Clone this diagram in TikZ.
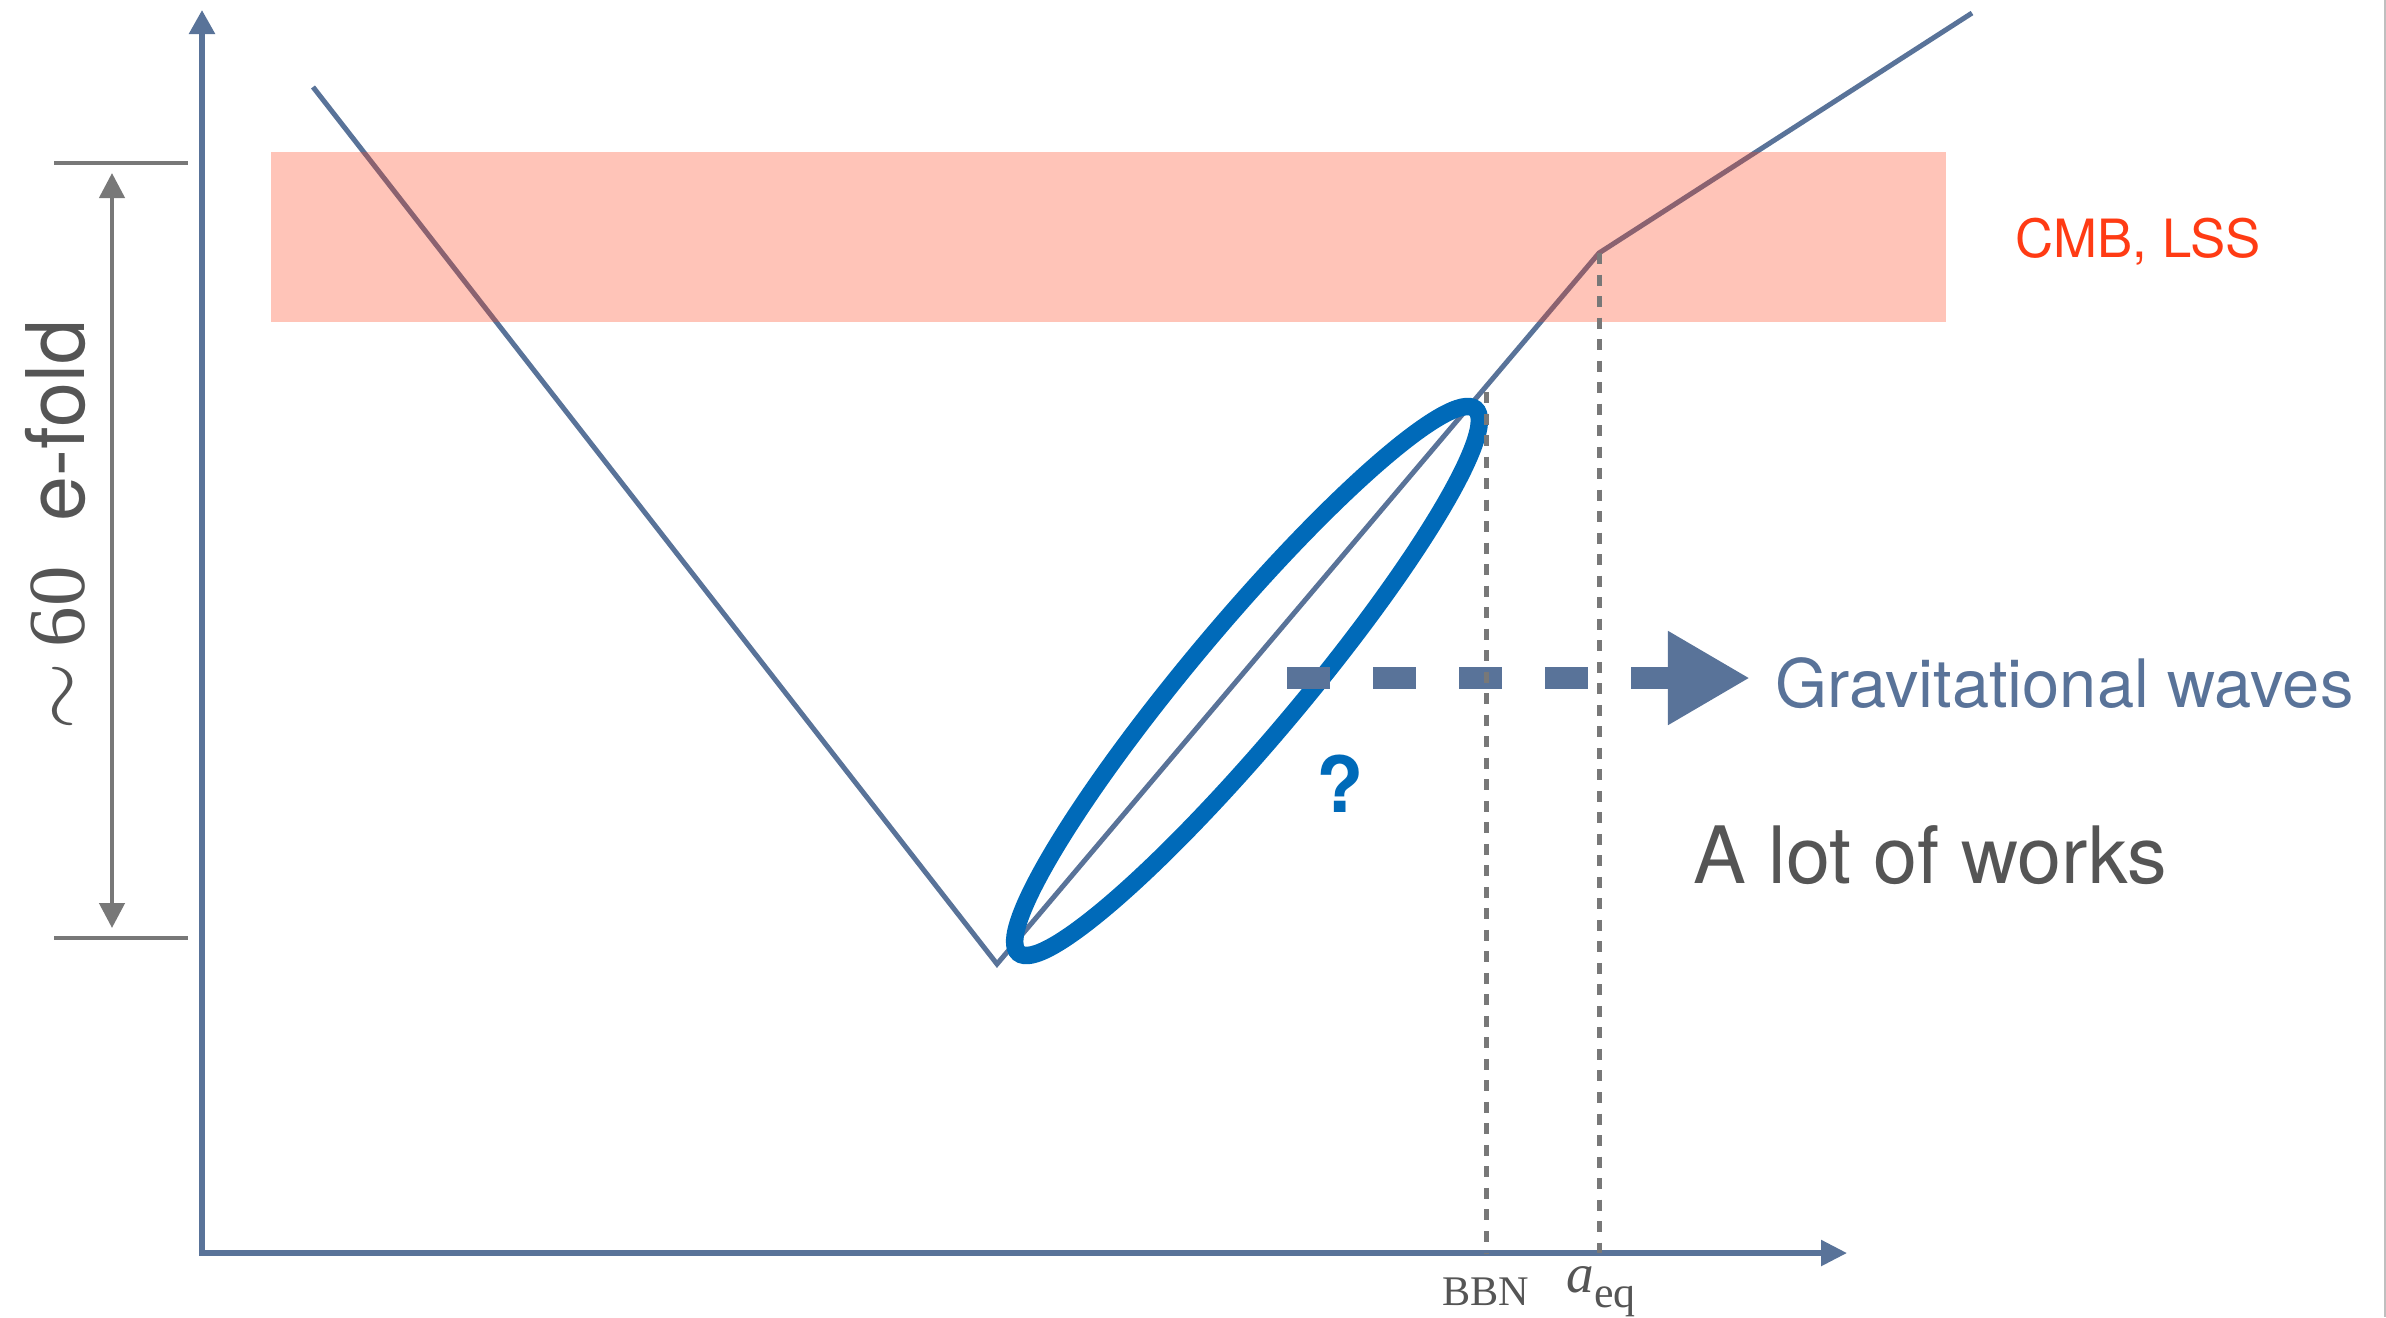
\documentclass[tikz,border=0pt]{standalone}
\usepackage{fontspec}
\setsansfont{TeX Gyre Heros}
\newfontfamily\timesfont{Liberation Serif}
\usetikzlibrary{arrows.meta}
\definecolor{axisblue}{RGB}{89,115,153}
\definecolor{rulegray}{RGB}{120,120,120}
\definecolor{textgray}{RGB}{85,85,85}
\definecolor{probeblue}{RGB}{0,106,185}
\definecolor{cmbred}{RGB}{255,59,20}
\begin{document}
\begin{tikzpicture}[x=0.01cm,y=-0.01cm,
    axis/.style={draw=axisblue,line width=0.055cm},
    curve/.style={draw=axisblue,line width=0.05cm},
    rangeline/.style={draw=rulegray,line width=0.045cm},
    guide/.style={draw=rulegray,line width=0.05cm,dash pattern=on 0.11cm off 0.105cm},
    txt/.style={inner sep=0,text=textgray}]
    \useasboundingbox (0,0) rectangle (2386,1317);
    % Axes
        \coordinate (O) at (202,1253);
        \coordinate (ytip) at (202,10);
        \coordinate (xtip) at (1847,1253);
        \draw[axis,{Triangle[length=0.24cm,width=0.25cm]}-{Triangle[length=0.26cm,width=0.25cm]}] (ytip) -- (O) -- (xtip);
    % ~60 e-fold range
        \draw[rangeline] (54,163) -- (188,163);
        \draw[rangeline] (54,938) -- (188,938);
        \coordinate (etop) at (112,163);
        \coordinate (ebot) at (112,938);
        \draw[rangeline,{Triangle[length=0.25cm,width=0.25cm]}-{Triangle[length=0.25cm,width=0.25cm]},shorten <=0.1cm,shorten >=0.1cm] (etop) -- (ebot);
        \node[txt,rotate=90,anchor=base,font=\sffamily\fontsize{23}{28}\selectfont] (efold) at (84,525) {$\sim$\hspace{0.15cm}{\timesfont 60}\hspace{0.45cm}e-fold};
    % Expansion history
        \coordinate (vstart) at (313,87);
        \coordinate (vmin) at (997,964);
        \coordinate (keq) at (1599,253);
        \coordinate (vend) at (1972,13);
        \draw[curve] (vstart) -- (vmin) -- (keq) -- (vend);
    % CMB, LSS
        \fill[cmbred,fill opacity=0.3] (271,152) rectangle (1946,322);
        \node[txt,text=cmbred,anchor=base west,font=\sffamily\fontsize{15}{18}\selectfont] (cmb) at (2015,257) {CMB, LSS};
    % Unknown era
        \draw[probeblue,line width=0.175cm,shift={(1247,681)},rotate=50] (0,0) ellipse [x radius=3.55cm,y radius=0.56cm];
        \node[txt,text=probeblue,anchor=base,font=\sffamily\bfseries\fontsize{22}{26}\selectfont] (unknown) at (1340,812) {?};
    % Gravitational waves
        \node[txt,text=axisblue,anchor=base west,font=\sffamily\fontsize{19}{23}\selectfont] (gw) at (1775,707) {Gravitational waves};
        \coordinate (gwstart) at (1287,678);
        \draw[draw=axisblue,line width=0.22cm,dash pattern=on 0.43cm off 0.43cm,-{Triangle[length=0.82cm,width=0.88cm]},shorten >=0.25cm] (gwstart) -- (gwstart -| gw.west);
        \node[txt,anchor=base west,font=\sffamily\fontsize{22.5}{27}\selectfont] (works) at (1693,883) {A lot of works};
    % BBN and equality
        \coordinate (bbn) at (1486,392);
        \draw[guide] (bbn) -- (bbn |- O);
        \draw[guide] (keq) -- (keq |- O);
        \node[txt,anchor=base,font=\timesfont\fontsize{12}{14}\selectfont] (bbnlabel) at (1486,1305) {BBN};
        \node[txt,anchor=base west] (aeq) at (1566,1292) {\timesfont\fontsize{15.7}{18}\selectfont\itshape a\upshape\fontsize{12.5}{15}\selectfont\raisebox{-0.15cm}{eq}};
    % Page edge
        \draw[gray!50,line width=0.02cm] (2385,0) -- (2385,1317);
\end{tikzpicture}
\end{document}
